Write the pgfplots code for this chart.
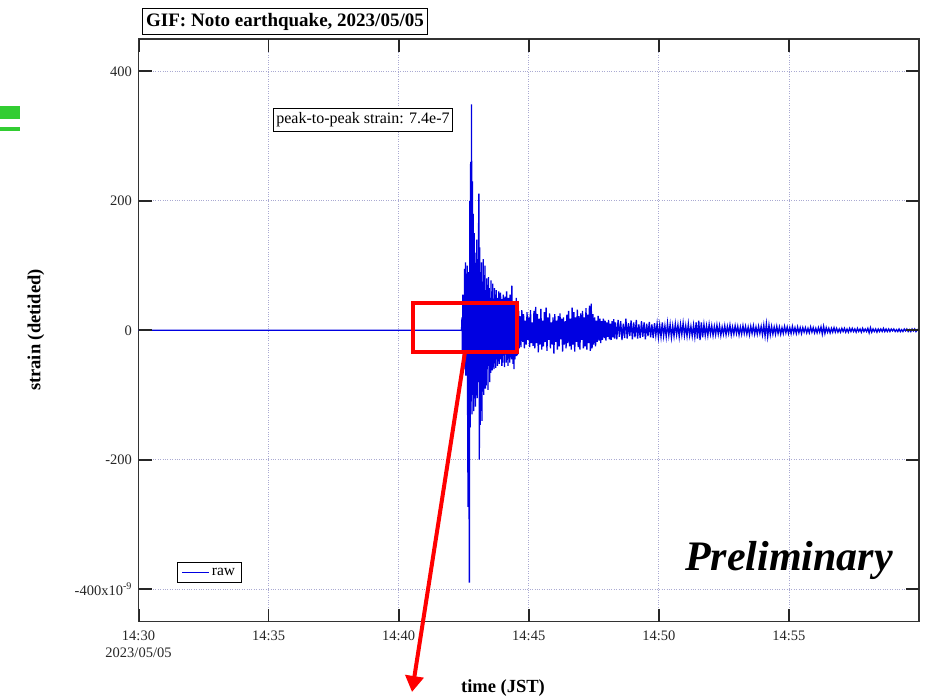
\documentclass[border=0pt]{standalone}
\usepackage{pgfplots}
\pgfplotsset{compat=1.18}
\usepackage{fontspec}
\setmainfont{Liberation Serif}
\usetikzlibrary{arrows.meta}
\definecolor{trace}{RGB}{0,0,225}
\definecolor{gridc}{RGB}{170,170,210}
\definecolor{grn}{RGB}{50,205,50}
\tikzset{tk/.style={solid, line width=1.6pt, draw=black!85}}
\begin{document}
\begin{tikzpicture}[x=1pt,y=1pt]
\useasboundingbox (0,0) rectangle (933,-698);
\fill[grn] (0,-106) rectangle (20,-119);
\fill[grn] (0,-127) rectangle (20,-131);
\begin{axis}[
  at={(138.5pt,-621.5pt)}, anchor=south west,
  width=780.5pt, height=582.5pt, scale only axis,
  xmin=0, xmax=1800, ymin=-450, ymax=450,
  xtick={0,300,600,900,1200,1500},
  xticklabels={{14:30\\2023/05/05},14:35,14:40,14:45,14:50,14:55},
  ytick={-400,-200,0,200,400},
  yticklabels={{-400x10\textsuperscript{-9}},-200,0,200,400},
  tick align=inside, major tick length=13pt,
  major tick style={solid, line width=1.6pt, draw=black!85},
  axis line style={line width=1.8pt, black!80},
  grid=major,
  major grid style={dotted, draw=gridc, line width=0.8pt},
  xticklabel shift=6pt, yticklabel shift=3pt,
  xticklabel style={align=center, font=\fontsize{14.5}{17}\selectfont, text=black!85},
  yticklabel style={font=\fontsize{14.5}{17}\selectfont, text=black!85},
  legend style={at={(0.0493,0.0661)}, anchor=south west, draw=black, line width=1.2pt,
    font=\fontsize{15.5}{17}\selectfont, inner xsep=4pt, inner ysep=3.5pt},
  legend image code/.code={\draw[#1, line width=1.3pt] (0pt,0pt) -- (27pt,0pt);},
]
\addplot[trace, line width=1.3pt] coordinates {
(0,0)(745,0)
(746,20)(747,-35)(748,55)(749,-48)(750,40)(751,-30)(752,95)(753,-60)(754,105)(755,-70)
(756,80)(757,-55)(758,100)(759,-120)(760,-273)(761,90)(762,-180)(763,-390)(764,200)(765,-150)
(766,260)(767,-110)(768,349)(769,-130)(770,230)(771,-100)(772,180)(773,-125)(774,150)(775,-90)
(776,120)(777,-118)(778,95)(779,-70)(780,140)(781,-105)(782,110)(783,-80)(784,130)(785,211)
(786,-200)(787,128)(788,-146)(789,90)(790,-120)(791,105)(792,-140)(793,75)(794,-95)(795,110)
(796,-100)(797,85)(798,-70)(799,100)(800,-90)(801,60)(802,-85)(803,80)(804,-60)(805,70)
(806,-92)(807,82)(808,-55)(809,65)(810,-80)(811,50)(812,-66)(813,77)(814,-45)(815,60)
(816,-62)(817,72)(818,-50)(819,45)(820,-60)(821,65)(822,-40)(823,55)(824,-58)(825,62)
(826,-35)(827,50)(828,-55)(829,40)(830,-48)(831,60)(832,-52)(833,35)(834,-45)(835,58)
(836,-40)(837,48)(838,-55)(839,30)(840,-50)(841,55)(842,-35)(843,45)(844,-57)(845,52)
(846,-30)(847,40)(848,-50)(849,60)(850,-42)(851,35)(852,-55)(853,50)(854,-38)(855,42)
(856,-50)(857,55)(858,-30)(859,48)(860,-45)(861,69)(862,-40)(863,38)(864,-52)(865,45)
(866,-60)(867,30)(868,-45)(869,40)(870,-35)(871,50)(872,-40)(873,28)(874,-38)(875,35)
(876,-25)(877,30)(878,-28)
(880,22)(882,-26)(884,31)(886,-18)(888,25)(890,-28)(892,15)(894,-22)(896,28)(898,-15)
(900,20)(902,-26)(904,31)(906,-20)(908,12)(910,-24)(912,30)(914,-28)(916,36)(918,-20)
(920,25)(922,-34)(924,18)(926,-22)(928,33)(930,-30)(932,15)(934,-25)(936,28)(938,-18)
(940,35)(942,-32)(944,20)(946,-15)(948,26)(950,-28)(952,12)(954,-22)(956,20)(958,-36)
(960,25)(962,-18)(964,15)(966,-30)(968,22)(970,-25)(972,26)(974,-14)(976,18)(978,-33)
(980,20)(982,-22)(984,14)(986,-28)(988,24)(990,-20)(992,30)(994,-25)(996,18)(998,-30)
(1000,35)(1002,-22)(1004,28)(1006,-33)(1008,20)(1010,-18)(1012,32)(1014,-26)(1016,22)(1018,-30)
(1020,26)(1022,-15)(1024,30)(1026,-28)(1028,20)(1030,-25)(1032,34)(1034,-30)(1036,24)(1038,-20)
(1040,38)(1042,-32)(1044,41)(1046,-28)(1048,25)(1050,-22)(1052,20)(1054,-25)(1056,15)(1058,-18)
(1060,22)(1062,-16)(1064,18)(1066,-20)(1068,14)(1070,-15)(1072,18)(1074,-12)(1076,15)(1078,-16)
(1080,12)(1082,-10)(1084,16)(1086,-14)(1088,10)(1090,-15)(1092,14)(1094,-11)(1096,17)(1098,-13)
(1100,12)(1103,-14)(1106,16)(1109,-10)(1112,14)(1115,-15)(1118,10)(1121,-12)(1124,18)(1127,-13)
(1130,11)(1133,-9)(1136,15)(1139,-14)(1142,12)(1145,-11)(1148,16)(1151,-13)(1154,9)(1157,-12)
(1160,14)(1163,-10)(1166,12)(1169,-14)(1172,10)(1175,-9)(1178,13)(1181,-11)(1184,9)(1187,-12)
(1190,11)(1193,-8)(1196,10)(1199,-11)(1202,8)(1205,-10)(1208,12)(1211,-9)(1214,7)(1217,-10)
(1220,11)(1223,-8)(1226,9)(1229,-11)(1232,7)(1235,-9)(1238,10)(1241,-7)(1244,8)(1247,-10)
(1250,9)(1253,-7)(1256,11)(1259,-8)(1262,7)(1265,-9)(1268,10)(1271,-8)(1274,6)(1277,-9)
(1280,8)(1283,-10)(1286,12)(1289,-13)(1292,15)(1295,-15)(1298,12)(1301,-11)(1304,9)(1307,-8)
(1310,7)(1313,-8)(1316,9)(1319,-6)(1322,7)(1325,-8)(1328,6)(1331,-7)(1334,8)(1337,-6)
(1340,7)(1343,-8)(1346,5)(1349,-6)(1352,7)(1355,-7)(1358,6)(1361,-5)(1364,8)(1367,-7)
(1370,5)(1373,-6)(1376,7)(1379,-5)(1382,6)(1385,-7)(1388,5)(1391,-6)(1394,7)(1397,-5)
(1400,6)(1403,-6)(1406,5)(1409,-7)(1412,6)(1415,-5)(1418,7)(1421,-6)(1424,5)(1427,-6)
(1430,6)(1433,-5)(1436,6)(1439,-7)(1442,8)(1445,-9)(1448,10)(1451,-10)(1454,8)(1457,-7)
(1460,6)(1463,-6)(1466,5)(1469,-6)(1472,6)(1475,-5)(1478,5)(1481,-6)(1484,4)(1487,-5)
(1490,6)(1493,-4)(1496,5)(1499,-5)(1502,4)(1505,-5)(1508,6)(1511,-4)(1514,4)(1517,-5)
(1520,5)(1523,-4)(1526,4)(1529,-5)(1532,4)(1535,-3)(1538,4)(1541,-4)(1544,3)(1547,-4)
(1550,5)(1553,-3)(1556,4)(1559,-4)(1562,3)(1565,-4)(1568,4)(1571,-3)(1574,5)(1577,-6)
(1580,6)(1583,-5)(1586,4)(1589,-3)(1592,3)(1595,-4)(1598,3)(1601,-3)(1604,4)(1607,-3)
(1610,3)(1613,-3)(1616,2)(1619,-3)(1622,3)(1625,-2)(1628,3)(1631,-3)(1634,2)(1637,-3)
(1640,3)(1643,-2)(1646,3)(1649,-2)(1652,2)(1655,-3)(1658,3)(1661,-2)(1664,2)(1667,-3)
(1670,3)(1673,-2)(1676,2)(1679,-2)(1682,3)(1685,-4)(1688,4)(1691,-3)(1694,2)(1697,-2)
(1700,2)(1703,-3)(1706,2)(1709,-2)(1712,2)(1715,-2)(1718,3)(1721,-2)(1724,2)(1727,-2)
(1730,2)(1733,-2)(1736,2)(1739,-1)(1742,2)(1745,-2)(1748,1)(1751,-2)(1754,2)(1757,-2)
(1760,1)(1763,-2)(1766,2)(1769,-1)(1772,2)(1775,-2)(1778,1)(1781,-2)(1784,2)(1787,-1)
(1790,2)(1793,-2)(1796,1)(1799,-1)
};
\addlegendentry{raw}
\end{axis}
% tick marks on left, bottom and top edges (decoration drawn in picture coordinates)
\foreach \yy in {71.3,200.7,330.2,459.7,589.2}{
  \draw[tk] (138.5,-\yy) -- ++(13,0);
  \draw[tk] (919,-\yy) -- ++(-13,0);
}
\foreach \xx in {268.6,398.7,528.7,658.8,788.9}{
  \draw[tk] (\xx,-621.5) -- ++(0,13);
  \draw[tk] (\xx,-39) -- ++(0,-13);
}
\draw[tk] (139.5,-621.5) -- ++(0,13);
\draw[tk] (139.5,-39) -- ++(0,-13);
% title box
\node[draw=black, line width=1.3pt, inner xsep=3.5pt, inner ysep=4.5pt, font=\bfseries\fontsize{19}{21}\selectfont]
  at (285,-21.5) {GIF: Noto earthquake, 2023/05/05};
% peak-to-peak annotation
\node[draw=black, line width=1.2pt, fill=white, inner xsep=3pt, inner ysep=4.5pt, font=\fontsize{16}{18}\selectfont]
  at (363,-120) {peak-to-peak strain: 7.4e-7};
% Preliminary
\node[anchor=base, font=\bfseries\itshape\fontsize{42}{46}\selectfont] at (789,-570) {Preliminary};
% axis labels
\node[rotate=90, font=\bfseries\fontsize{18.5}{20}\selectfont] at (36,-330) {strain (detided)};
\node[font=\bfseries\fontsize{18.5}{20}\selectfont] at (503,-688) {time (JST)};
% red zoom box and arrow
\draw[red, line width=4pt] (413,-303) rectangle (517,-352);
\draw[red, line width=4pt, -{Triangle[length=16pt,width=18pt]}] (465,-352) -- (412,-692);
\end{tikzpicture}
\end{document}
